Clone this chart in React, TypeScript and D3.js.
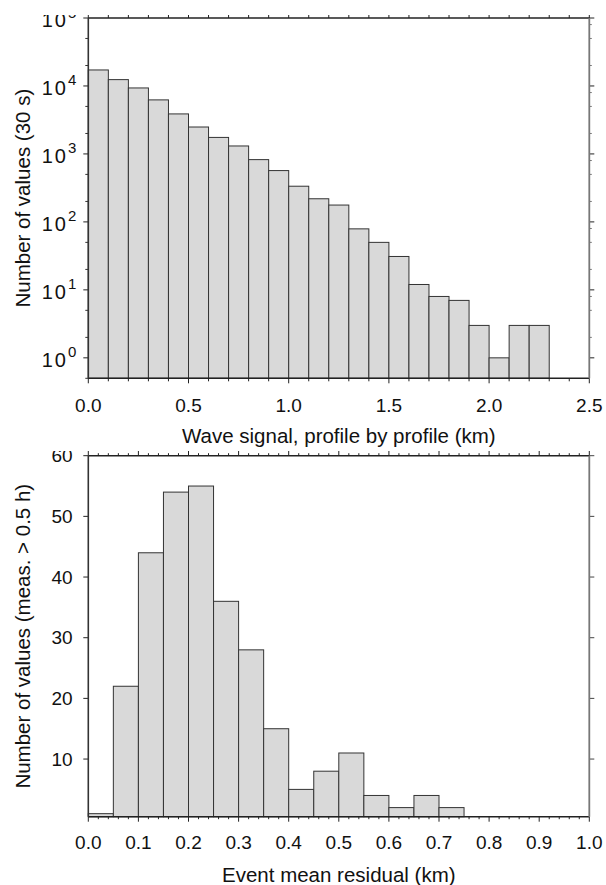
import { useEffect, useRef } from 'react'
import * as d3 from 'd3'

// top panel: wave signal histogram (log counts), bins 0.1 km wide
const waveBinStarts = [0, 0.1, 0.2, 0.3, 0.4, 0.5, 0.6, 0.7, 0.8, 0.9, 1.0, 1.1, 1.2, 1.3, 1.4, 1.5, 1.6, 1.7, 1.8, 1.9, 2.0, 2.1, 2.2]
const waveCounts = [17200, 12400, 9350, 6240, 3880, 2490, 1750, 1310, 825, 569, 335, 219, 177, 79, 50, 31, 12, 8, 7, 3, 1, 3, 3]
const waveBinWidth = 0.1
const waveXTicks = [0, 0.5, 1.0, 1.5, 2.0, 2.5]
const waveYDecades = [0, 1, 2, 3, 4, 5]

// bottom panel: event mean residual histogram, bins 0.05 km wide
const residBinStarts = [0, 0.05, 0.1, 0.15, 0.2, 0.25, 0.3, 0.35, 0.4, 0.45, 0.5, 0.55, 0.6, 0.65, 0.7]
const residCounts = [1, 22, 44, 54, 55, 36, 28, 15, 5, 8, 11, 4, 2, 4, 2]
const residBinWidth = 0.05
const residXTicks = [0, 0.1, 0.2, 0.3, 0.4, 0.5, 0.6, 0.7, 0.8, 0.9, 1.0]
const residYTicks = [10, 20, 30, 40, 50, 60]

const FONT = "'Liberation Sans', Arial, Helvetica, sans-serif"
const W = 606
const H = 885
const LEFT = 88.3
const RIGHT = 589.3

export default function App() {
  const svgRef = useRef<SVGSVGElement>(null)

  useEffect(() => {
    if (!svgRef.current) return
    const svg = d3.select(svgRef.current)
    svg.selectAll('*').remove()

    const defs = svg.append('defs')
    defs.append('clipPath').attr('id', 'clipTop')
      .append('rect').attr('x', 0).attr('y', 15).attr('width', W).attr('height', 436)
    defs.append('clipPath').attr('id', 'clipBottom')
      .append('rect').attr('x', 0).attr('y', 451).attr('width', W).attr('height', H - 451)

    // ---------- top panel ----------
    const top = svg.append('g').attr('clip-path', 'url(#clipTop)')
    const x1 = d3.scaleLinear().domain([0, 2.5]).range([LEFT, RIGHT])
    const y1 = d3.scaleLog().domain([0.5, 1e5]).range([378.3, 18])
    const [b1, t1] = y1.range()

    top.selectAll('rect.bar')
      .data(waveCounts)
      .join('rect')
      .attr('class', 'bar')
      .attr('x', (_, i) => x1(waveBinStarts[i]))
      .attr('width', (_, i) => x1(waveBinStarts[i] + waveBinWidth) - x1(waveBinStarts[i]))
      .attr('y', d => y1(d))
      .attr('height', d => b1 - y1(d))
      .attr('fill', '#d9d9d9')
      .attr('stroke', '#333')
      .attr('stroke-width', 1)

    // x ticks every 0.1, major at 0.5
    const xMinor1 = d3.range(0, 26).map(i => i / 10)
    xMinor1.forEach((v, i) => {
      const len = i % 5 === 0 ? 5 : 3
      const xx = x1(v)
      top.append('line').attr('x1', xx).attr('x2', xx).attr('y1', b1).attr('y2', b1 + len)
        .attr('stroke', '#222').attr('stroke-width', 1)
      top.append('line').attr('x1', xx).attr('x2', xx).attr('y1', t1).attr('y2', t1 - len)
        .attr('stroke', '#222').attr('stroke-width', 1)
    })
    waveXTicks.forEach(v => {
      top.append('text').attr('x', x1(v)).attr('y', b1 + 33.4)
        .attr('text-anchor', 'middle').attr('font-size', 19).attr('font-family', FONT)
        .attr('fill', '#111').text(v.toFixed(1))
    })

    // y decade ticks + minor 2,5
    waveYDecades.forEach(p => {
      const v = Math.pow(10, p)
      const yy = y1(v)
      top.append('line').attr('x1', LEFT - 5).attr('x2', LEFT).attr('y1', yy).attr('y2', yy)
        .attr('stroke', '#222').attr('stroke-width', 1)
      top.append('line').attr('x1', RIGHT).attr('x2', RIGHT + 5).attr('y1', yy).attr('y2', yy)
        .attr('stroke', '#222').attr('stroke-width', 1)
      ;[2, 5].forEach(m => {
        const vm = v * m
        if (vm > 1e5) return
        top.append('line').attr('x1', LEFT - 3).attr('x2', LEFT).attr('y1', y1(vm)).attr('y2', y1(vm))
          .attr('stroke', '#333').attr('stroke-width', 1)
      })
      ;[2, 5, 8].forEach(m => {
        const vm = v * m
        if (vm > 1e5) return
        top.append('line').attr('x1', RIGHT).attr('x2', RIGHT + 2.5).attr('y1', y1(vm)).attr('y2', y1(vm))
          .attr('stroke', '#777').attr('stroke-width', 1)
      })
      const t = top.append('text').attr('x', LEFT - 12).attr('y', yy + 9)
        .attr('text-anchor', 'end').attr('font-family', FONT).attr('fill', '#111')
      t.append('tspan').attr('font-size', 20).attr('letter-spacing', 2).text('10')
      t.append('tspan').attr('font-size', 15).attr('dy', -9.5).text(String(p))
    })
    // 0.5 minor at bottom
    top.append('line').attr('x1', LEFT - 3).attr('x2', LEFT).attr('y1', y1(0.5)).attr('y2', y1(0.5))
      .attr('stroke', '#333')

    // frame
    top.append('line').attr('x1', LEFT).attr('x2', RIGHT).attr('y1', b1).attr('y2', b1).attr('stroke', '#222').attr('stroke-width', 1.4)
    top.append('line').attr('x1', LEFT).attr('x2', RIGHT).attr('y1', t1).attr('y2', t1).attr('stroke', '#222').attr('stroke-width', 1.4)
    top.append('line').attr('x1', LEFT).attr('x2', LEFT).attr('y1', t1).attr('y2', b1).attr('stroke', '#333').attr('stroke-width', 1.6)
    top.append('line').attr('x1', RIGHT).attr('x2', RIGHT).attr('y1', t1).attr('y2', b1).attr('stroke', '#777').attr('stroke-width', 1.8)

    top.append('text').attr('x', (LEFT + RIGHT) / 2).attr('y', 442.7)
      .attr('text-anchor', 'middle').attr('font-size', 20.5).attr('font-family', FONT).attr('fill', '#111')
      .text('Wave signal, profile by profile (km)')
    top.append('text').attr('transform', `translate(30,${(t1 + b1) / 2}) rotate(-90)`)
      .attr('text-anchor', 'middle').attr('font-size', 20.5).attr('font-family', FONT).attr('fill', '#111')
      .text('Number of values (30 s)')

    // ---------- bottom panel ----------
    const bot = svg.append('g').attr('clip-path', 'url(#clipBottom)')
    const x2 = d3.scaleLinear().domain([0, 1]).range([LEFT, RIGHT])
    const y2 = d3.scaleLinear().domain([0.5, 60]).range([816.7, 455.7])
    const [b2, t2] = y2.range()

    bot.selectAll('rect.bar')
      .data(residCounts)
      .join('rect')
      .attr('class', 'bar')
      .attr('x', (_, i) => x2(residBinStarts[i]))
      .attr('width', (_, i) => x2(residBinStarts[i] + residBinWidth) - x2(residBinStarts[i]))
      .attr('y', d => y2(d))
      .attr('height', d => b2 - y2(d))
      .attr('fill', '#d9d9d9')
      .attr('stroke', '#333')
      .attr('stroke-width', 1)

    const xMinor2 = d3.range(0, 51).map(i => i / 50)
    xMinor2.forEach((v, i) => {
      const len = i % 5 === 0 ? 5 : 2.5
      const xx = x2(v)
      bot.append('line').attr('x1', xx).attr('x2', xx).attr('y1', b2).attr('y2', b2 + len)
        .attr('stroke', '#222').attr('stroke-width', 1)
      bot.append('line').attr('x1', xx).attr('x2', xx).attr('y1', t2).attr('y2', t2 - len)
        .attr('stroke', '#222').attr('stroke-width', 1)
    })
    residXTicks.forEach(v => {
      bot.append('text').attr('x', x2(v)).attr('y', b2 + 32.6)
        .attr('text-anchor', 'middle').attr('font-size', 19).attr('font-family', FONT)
        .attr('fill', '#111').text(v.toFixed(1))
    })
    residYTicks.forEach(v => {
      const yy = y2(v)
      bot.append('line').attr('x1', LEFT - 5).attr('x2', LEFT).attr('y1', yy).attr('y2', yy)
        .attr('stroke', '#222').attr('stroke-width', 1)
      bot.append('line').attr('x1', RIGHT).attr('x2', RIGHT + 5).attr('y1', yy).attr('y2', yy)
        .attr('stroke', '#444').attr('stroke-width', 1)
      bot.append('text').attr('x', LEFT - 15.6).attr('y', yy + 6.7)
        .attr('text-anchor', 'end').attr('font-size', 19).attr('font-family', FONT)
        .attr('fill', '#111').text(String(v))
    })

    bot.append('line').attr('x1', LEFT).attr('x2', RIGHT).attr('y1', b2).attr('y2', b2).attr('stroke', '#222').attr('stroke-width', 1.4)
    bot.append('line').attr('x1', LEFT).attr('x2', RIGHT).attr('y1', t2).attr('y2', t2).attr('stroke', '#222').attr('stroke-width', 1.4)
    bot.append('line').attr('x1', LEFT).attr('x2', LEFT).attr('y1', t2).attr('y2', b2).attr('stroke', '#333').attr('stroke-width', 1.6)
    bot.append('line').attr('x1', RIGHT).attr('x2', RIGHT).attr('y1', t2).attr('y2', b2).attr('stroke', '#777').attr('stroke-width', 1.8)

    bot.append('text').attr('x', (LEFT + RIGHT) / 2).attr('y', 881.5)
      .attr('text-anchor', 'middle').attr('font-size', 20.5).attr('font-family', FONT).attr('fill', '#111')
      .text('Event mean residual (km)')
    bot.append('text').attr('transform', `translate(30,${(t2 + b2) / 2}) rotate(-90)`)
      .attr('text-anchor', 'middle').attr('font-size', 20.5).attr('font-family', FONT).attr('fill', '#111')
      .text('Number of values (meas. > 0.5 h)')
  }, [])

  return (
    <svg
      ref={svgRef}
      width={W}
      height={H}
      style={{ position: 'absolute', left: 0, top: 0, background: '#fff' }}
    />
  )
}
